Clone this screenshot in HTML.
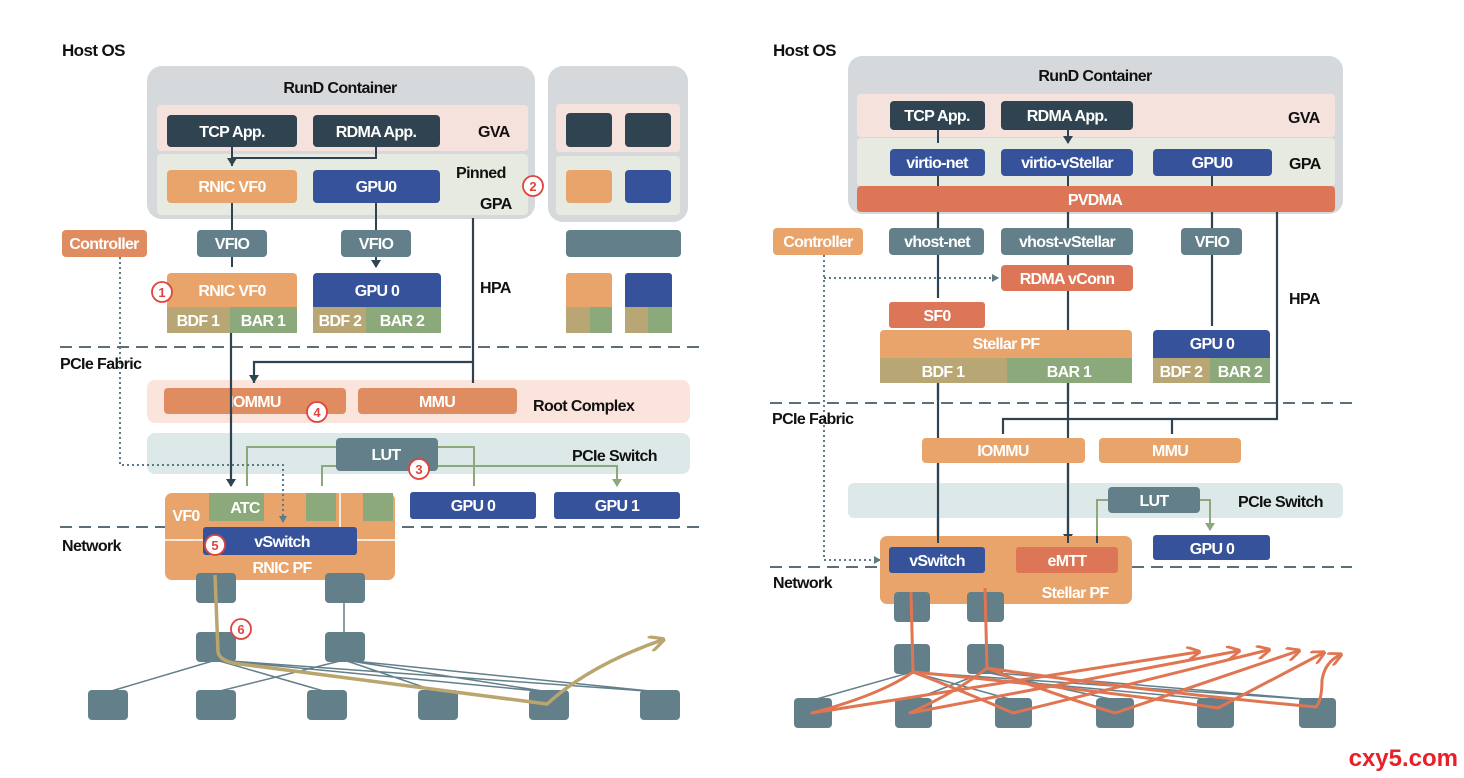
<!DOCTYPE html>
<html><head><meta charset="utf-8"><style>
html,body{margin:0;padding:0;background:#fff;}
svg{display:block;}
text{font-family:"Liberation Sans",sans-serif;font-weight:bold;}
.w{fill:#fff;font-size:16px;text-anchor:middle;letter-spacing:-0.7px;}
.k{fill:#111;font-size:16px;letter-spacing:-0.6px;}
.c{fill:#fff;stroke:#e0443e;stroke-width:1.8;}
.cn{fill:#e0443e;font-size:13px;text-anchor:middle;}
</style></head><body>
<svg width="1464" height="778" viewBox="0 0 1464 778" xmlns="http://www.w3.org/2000/svg">
<defs>
<marker id="ad" markerWidth="10" markerHeight="10" refX="5" refY="7" markerUnits="userSpaceOnUse"><path d="M0,0 L10,0 L5,8 Z" fill="#2f4450"/></marker>
<marker id="ag" markerWidth="10" markerHeight="10" refX="5" refY="7" markerUnits="userSpaceOnUse"><path d="M0,0 L10,0 L5,8 Z" fill="#8ba97a"/></marker>
<marker id="ao" viewBox="0 0 10 10" refX="8" refY="5" markerWidth="14" markerHeight="14" orient="auto" markerUnits="userSpaceOnUse"><path d="M0,0 L10,5 L0,10" fill="none" stroke="#e07552" stroke-width="2"/></marker>
<marker id="ay" viewBox="0 0 10 10" refX="8" refY="5" markerWidth="16" markerHeight="16" orient="auto" markerUnits="userSpaceOnUse"><path d="M0,0 L10,5 L0,10" fill="none" stroke="#bba56e" stroke-width="2"/></marker>
<marker id="dt" markerWidth="8" markerHeight="8" refX="4" refY="6" markerUnits="userSpaceOnUse"><path d="M0,0 L8,0 L4,7 Z" fill="#5c7b86"/></marker>
<marker id="dr" markerWidth="8" markerHeight="8" refX="6" refY="4" markerUnits="userSpaceOnUse"><path d="M0,0 L7,4 L0,8 Z" fill="#5c7b86"/></marker>
</defs>

<!-- ================= LEFT ================= -->
<text x="62" y="56" class="k" style="font-size:17px">Host OS</text>
<rect x="147" y="66" width="388" height="153" rx="15" fill="#d5d9dc"/>
<text x="340" y="93" class="k" text-anchor="middle">RunD Container</text>
<rect x="157" y="105" width="371" height="46" rx="4" fill="#f6e2dc"/>
<rect x="157" y="154" width="371" height="61" rx="4" fill="#e6eae0"/>
<rect x="167" y="115" width="130" height="32" rx="4" fill="#2f4450"/><text x="232" y="137" class="w">TCP App.</text>
<rect x="313" y="115" width="127" height="32" rx="4" fill="#2f4450"/><text x="376" y="137" class="w">RDMA App.</text>
<text x="478" y="137" class="k">GVA</text>
<rect x="167" y="170" width="130" height="33" rx="4" fill="#e8a46a"/><text x="232" y="192" class="w">RNIC VF0</text>
<rect x="313" y="170" width="127" height="33" rx="4" fill="#35529b"/><text x="376" y="192" class="w">GPU0</text>
<text x="456" y="178" class="k">Pinned</text>
<text x="480" y="209" class="k">GPA</text>
<circle cx="533" cy="186" r="10" class="c"/><text x="533" y="191" class="cn">2</text>
<rect x="548" y="66" width="140" height="156" rx="15" fill="#d5d9dc"/>
<rect x="556" y="104" width="124" height="48" rx="4" fill="#f6e2dc"/>
<rect x="556" y="156" width="124" height="59" rx="4" fill="#e6eae0"/>
<rect x="566" y="113" width="46" height="34" rx="4" fill="#2f4450"/><rect x="625" y="113" width="46" height="34" rx="4" fill="#2f4450"/>
<rect x="566" y="170" width="46" height="33" rx="4" fill="#e8a46a"/><rect x="625" y="170" width="46" height="33" rx="4" fill="#35529b"/>
<rect x="566" y="230" width="115" height="27" rx="4" fill="#627f8a"/>
<rect x="566" y="273" width="46" height="60" rx="3" fill="#e8a46a"/><rect x="566" y="307" width="24" height="26" fill="#b8a774"/><rect x="590" y="307" width="22" height="26" fill="#8ba97a"/>
<rect x="625" y="273" width="47" height="60" rx="3" fill="#35529b"/><rect x="625" y="307" width="23" height="26" fill="#b8a774"/><rect x="648" y="307" width="24" height="26" fill="#8ba97a"/>

<path d="M232,147 V166 M376,147 V158 H232" stroke="#2f4450" stroke-width="2" fill="none"/>
<path d="M232,158 V165" stroke="#2f4450" stroke-width="2" marker-end="url(#ad)"/>
<rect x="62" y="230" width="85" height="27" rx="4" fill="#df8c60"/><text x="104" y="249" class="w">Controller</text>
<path d="M232,203 V230 M376,203 V230" stroke="#2f4450" stroke-width="2"/>
<rect x="197" y="230" width="70" height="27" rx="4" fill="#627f8a"/><text x="232" y="249" class="w">VFIO</text>
<rect x="341" y="230" width="70" height="27" rx="4" fill="#627f8a"/><text x="376" y="249" class="w">VFIO</text>
<path d="M232,257 V267 M376,257 V267" stroke="#2f4450" stroke-width="2" marker-end="url(#ad)"/>
<rect x="167" y="273" width="130" height="60" rx="4" fill="#e8a46a"/><rect x="167" y="307" width="63" height="26" fill="#b8a774"/><rect x="230" y="307" width="67" height="26" fill="#8ba97a"/>
<text x="232" y="296" class="w">RNIC VF0</text><text x="198" y="326" class="w">BDF 1</text><text x="263" y="326" class="w">BAR 1</text>
<rect x="313" y="273" width="128" height="60" rx="4" fill="#35529b"/><rect x="313" y="307" width="53" height="26" fill="#b8a774"/><rect x="366" y="307" width="75" height="26" fill="#8ba97a"/>
<text x="377" y="296" class="w">GPU 0</text><text x="340" y="326" class="w">BDF 2</text><text x="402" y="326" class="w">BAR 2</text>
<circle cx="162" cy="292" r="10" class="c"/><text x="162" y="297" class="cn">1</text>
<text x="480" y="293" class="k">HPA</text>

<path d="M60,347 H700 M60,527 H700" stroke="#5c6f78" stroke-width="2" stroke-dasharray="12,7"/>
<text x="60" y="369" class="k">PCIe Fabric</text>
<text x="62" y="551" class="k">Network</text>

<rect x="147" y="380" width="543" height="43" rx="8" fill="#fbe4db"/>
<rect x="147" y="433" width="543" height="41" rx="8" fill="#dde9e9"/>
<rect x="164" y="388" width="182" height="26" rx="4" fill="#df8c60"/><text x="255" y="407" class="w">IOMMU</text>
<rect x="358" y="388" width="159" height="26" rx="4" fill="#df8c60"/><text x="437" y="407" class="w">MMU</text>
<text x="533" y="411" class="k">Root Complex</text>
<circle cx="317" cy="412" r="10" class="c"/><text x="317" y="417" class="cn">4</text>
<text x="572" y="461" class="k">PCIe Switch</text>

<path d="M473,218 V383 M473,362 H254 V383" stroke="#2f4450" stroke-width="2.2" fill="none"/>
<path d="M473,377 V382 M254,377 V382" stroke="#2f4450" stroke-width="2" marker-end="url(#ad)"/>
<path d="M231,333 V486" stroke="#2f4450" stroke-width="2.2" marker-end="url(#ad)"/>

<path d="M336,447 H247 V486 M336,466 H322 V486 M438,447 H474 V486 M438,466 H617 V486" stroke="#8ba97a" stroke-width="2" fill="none" marker-end="url(#ag)"/>
<rect x="336" y="438" width="102" height="33" rx="4" fill="#627f8a"/><text x="386" y="460" class="w">LUT</text>
<circle cx="419" cy="469" r="10" class="c"/><text x="419" y="474" class="cn">3</text>
<rect x="410" y="492" width="126" height="27" rx="3" fill="#35529b"/><text x="473" y="511" class="w">GPU 0</text>
<rect x="554" y="492" width="126" height="27" rx="3" fill="#35529b"/><text x="617" y="511" class="w">GPU 1</text>

<rect x="165" y="493" width="230" height="87" rx="7" fill="#e8a46a"/>
<rect x="209" y="493" width="55" height="28" fill="#8ba97a"/><text x="245" y="513" class="w">ATC</text>
<rect x="306" y="493" width="30" height="28" fill="#8ba97a"/>
<rect x="363" y="493" width="30" height="28" fill="#8ba97a"/>
<path d="M340,493 V527 M165,540 H395" stroke="#fff" stroke-width="1.5"/>
<text x="186" y="521" class="w">VF0</text>
<rect x="203" y="527" width="154" height="28" rx="3" fill="#35529b"/><text x="282" y="547" class="w">vSwitch</text>
<text x="282" y="573" class="w">RNIC PF</text>
<circle cx="215" cy="545" r="10" class="c"/><text x="215" y="550" class="cn">5</text>
<path d="M120,257 V465 H283 V522" stroke="#5c7b86" stroke-width="2" stroke-dasharray="2,3" fill="none" marker-end="url(#dt)"/>

<g stroke="#627f8a" stroke-width="1.5">
<path d="M344,600 V640"/>
<path d="M216,660 L108,692 M216,660 L327,692 M216,660 L549,692 M216,660 L660,692 M344,660 L216,692 M344,660 L438,692 M344,660 L660,692 M344,660 L549,692"/>
</g>
<g fill="#627f8a">
<rect x="196" y="573" width="40" height="30" rx="4"/><rect x="325" y="573" width="40" height="30" rx="4"/>
<rect x="196" y="632" width="40" height="30" rx="4"/><rect x="325" y="632" width="40" height="30" rx="4"/>
<rect x="88" y="690" width="40" height="30" rx="4"/><rect x="196" y="690" width="40" height="30" rx="4"/><rect x="307" y="690" width="40" height="30" rx="4"/>
<rect x="418" y="690" width="40" height="30" rx="4"/><rect x="529" y="690" width="40" height="30" rx="4"/><rect x="640" y="690" width="40" height="30" rx="4"/>
</g>
<path d="M215,575 L218,652 Q220,662 240,664 L547,704 Q590,665 662,640" stroke="#bba56e" stroke-width="3.5" fill="none" marker-end="url(#ay)"/>
<circle cx="241" cy="629" r="10" class="c"/><text x="241" y="634" class="cn">6</text>

<!-- ================= RIGHT ================= -->
<text x="773" y="56" class="k" style="font-size:17px">Host OS</text>
<rect x="848" y="56" width="495" height="158" rx="14" fill="#d5d9dc"/>
<text x="1095" y="81" class="k" text-anchor="middle">RunD Container</text>
<rect x="857" y="94" width="478" height="43" rx="4" fill="#f6e2dc"/>
<rect x="857" y="138" width="478" height="48" rx="4" fill="#e6eae0"/>
<rect x="890" y="101" width="95" height="29" rx="4" fill="#2f4450"/><text x="937" y="121" class="w">TCP App.</text>
<rect x="1001" y="101" width="132" height="29" rx="4" fill="#2f4450"/><text x="1067" y="121" class="w">RDMA App.</text>
<text x="1288" y="123" class="k">GVA</text>
<path d="M938,130 V143 M1068,130 V143" stroke="#2f4450" stroke-width="2" marker-end="url(#ad)"/>
<rect x="890" y="149" width="95" height="27" rx="4" fill="#35529b"/><text x="937" y="168" class="w">virtio-net</text>
<rect x="1001" y="149" width="132" height="27" rx="4" fill="#35529b"/><text x="1067" y="168" class="w">virtio-vStellar</text>
<rect x="1153" y="149" width="119" height="27" rx="4" fill="#35529b"/><text x="1212" y="168" class="w">GPU0</text>
<text x="1289" y="169" class="k">GPA</text>
<path d="M938,176 V186 M1068,176 V186 M1212,176 V186" stroke="#2f4450" stroke-width="2"/>
<rect x="857" y="186" width="478" height="26" rx="4" fill="#dd7657"/><text x="1095" y="205" class="w">PVDMA</text>

<path d="M938,212 V298 M1068,212 V540 M1212,212 V326 M1277,212 V419 H1003 V434 M1172,419 V434 M938,383 V540" stroke="#2f4450" stroke-width="2.2" fill="none"/>
<path d="M938,293 V297 M1212,321 V325 M1003,429 V433 M1172,429 V433 M938,536 V541 M1068,536 V541" stroke="#2f4450" stroke-width="2" marker-end="url(#ad)"/>

<rect x="773" y="228" width="90" height="27" rx="4" fill="#e8a46a"/><text x="818" y="247" class="w">Controller</text>
<rect x="889" y="228" width="95" height="27" rx="4" fill="#627f8a"/><text x="937" y="247" class="w">vhost-net</text>
<rect x="1001" y="228" width="132" height="27" rx="4" fill="#627f8a"/><text x="1067" y="247" class="w">vhost-vStellar</text>
<rect x="1181" y="228" width="61" height="27" rx="4" fill="#627f8a"/><text x="1212" y="247" class="w">VFIO</text>
<path d="M824,255 V560 H878 M824,278 H996" stroke="#5c7b86" stroke-width="2" stroke-dasharray="2,3" fill="none"/>
<path d="M994,278 H998" stroke="#5c7b86" stroke-width="2" marker-end="url(#dr)"/>
<path d="M876,560 H880" stroke="#5c7b86" stroke-width="2" marker-end="url(#dr)"/>
<rect x="1001" y="265" width="132" height="26" rx="4" fill="#dd7657"/><text x="1067" y="284" class="w">RDMA vConn</text>
<rect x="889" y="302" width="96" height="26" rx="3" fill="#dd7657"/><text x="937" y="321" class="w">SF0</text>
<rect x="880" y="330" width="252" height="53" rx="4" fill="#e8a46a"/><rect x="880" y="358" width="127" height="25" fill="#b8a774"/><rect x="1007" y="358" width="125" height="25" fill="#8ba97a"/>
<text x="1006" y="349" class="w">Stellar PF</text><text x="943" y="377" class="w">BDF 1</text><text x="1069" y="377" class="w">BAR 1</text>
<path d="M938,383 V400 M1068,383 V400" stroke="#2f4450" stroke-width="2.2"/>
<rect x="1153" y="330" width="117" height="53" rx="4" fill="#35529b"/><rect x="1153" y="358" width="57" height="25" fill="#b8a774"/><rect x="1210" y="358" width="60" height="25" fill="#8ba97a"/>
<text x="1212" y="349" class="w">GPU 0</text><text x="1181" y="377" class="w">BDF 2</text><text x="1240" y="377" class="w">BAR 2</text>
<text x="1289" y="304" class="k">HPA</text>

<path d="M770,403 H1352 M770,567 H880 M1132,567 H1352" stroke="#5c6f78" stroke-width="2" stroke-dasharray="12,7"/>
<text x="772" y="424" class="k">PCIe Fabric</text>
<text x="773" y="588" class="k">Network</text>

<rect x="922" y="438" width="163" height="25" rx="4" fill="#e8a46a"/><text x="1003" y="456" class="w">IOMMU</text>
<rect x="1099" y="438" width="142" height="25" rx="4" fill="#e8a46a"/><text x="1170" y="456" class="w">MMU</text>
<rect x="848" y="483" width="495" height="35" rx="6" fill="#dde9e9"/>
<path d="M938,463 V536 M1068,463 V536" stroke="#2f4450" stroke-width="2.2"/>
<path d="M1108,500 H1097 V541 M1200,500 H1210 V530" stroke="#8ba97a" stroke-width="2" fill="none" marker-end="url(#ag)"/>
<rect x="1108" y="487" width="92" height="26" rx="4" fill="#627f8a"/><text x="1154" y="506" class="w">LUT</text>
<text x="1238" y="507" class="k">PCIe Switch</text>
<rect x="1153" y="535" width="117" height="25" rx="3" fill="#35529b"/><text x="1212" y="554" class="w">GPU 0</text>

<rect x="880" y="536" width="252" height="68" rx="7" fill="#e8a46a"/>
<path d="M938,536 V543 M1068,536 V543 M1097,536 V543" stroke="#2f4450" stroke-width="2"/>
<rect x="889" y="547" width="96" height="26" rx="3" fill="#35529b"/><text x="937" y="566" class="w">vSwitch</text>
<rect x="1016" y="547" width="102" height="26" rx="3" fill="#dd7657"/><text x="1067" y="566" class="w">eMTT</text>
<text x="1075" y="598" class="w">Stellar PF</text>

<g stroke="#627f8a" stroke-width="1.5">
<path d="M912,672 L813,700 M912,672 L1013,700 M912,672 L1218,700 M912,672 L1317,700 M985,672 L913,700 M985,672 L1115,700 M985,672 L1317,700"/>
</g>
<g fill="#627f8a">
<rect x="894" y="592" width="36" height="30" rx="4"/><rect x="967" y="592" width="37" height="30" rx="4"/>
<rect x="894" y="644" width="36" height="30" rx="4"/><rect x="967" y="644" width="37" height="30" rx="4"/>
<rect x="794" y="698" width="38" height="30" rx="4"/><rect x="895" y="698" width="37" height="30" rx="4"/><rect x="995" y="698" width="37" height="30" rx="4"/>
<rect x="1096" y="698" width="38" height="30" rx="4"/><rect x="1197" y="698" width="37" height="30" rx="4"/><rect x="1299" y="698" width="37" height="30" rx="4"/>
</g>
<g stroke="#e07552" stroke-width="3" fill="none" stroke-linejoin="round">
<path d="M911,592 L913,672 M985,588 L987,668"/>
<path d="M913,672 Q880,695 812,713 L1198,652" marker-end="url(#ao)"/>
<path d="M987,668 Q960,690 910,713 L1238,651" marker-end="url(#ao)"/>
<path d="M913,672 Q960,690 1013,713 L1268,650" marker-end="url(#ao)"/>
<path d="M987,668 Q1040,690 1115,713 L1298,651" marker-end="url(#ao)"/>
<path d="M913,672 Q1100,690 1218,708 L1323,653" marker-end="url(#ao)"/>
<path d="M987,668 Q1150,692 1316,707 Q1322,700 1322,680 Q1325,662 1340,655" marker-end="url(#ao)"/>
</g>

<text x="1458" y="766" text-anchor="end" style="fill:#e8202a;font-size:24px;font-family:'Liberation Sans',sans-serif;font-weight:bold">cxy5.com</text>
</svg>
</body></html>
